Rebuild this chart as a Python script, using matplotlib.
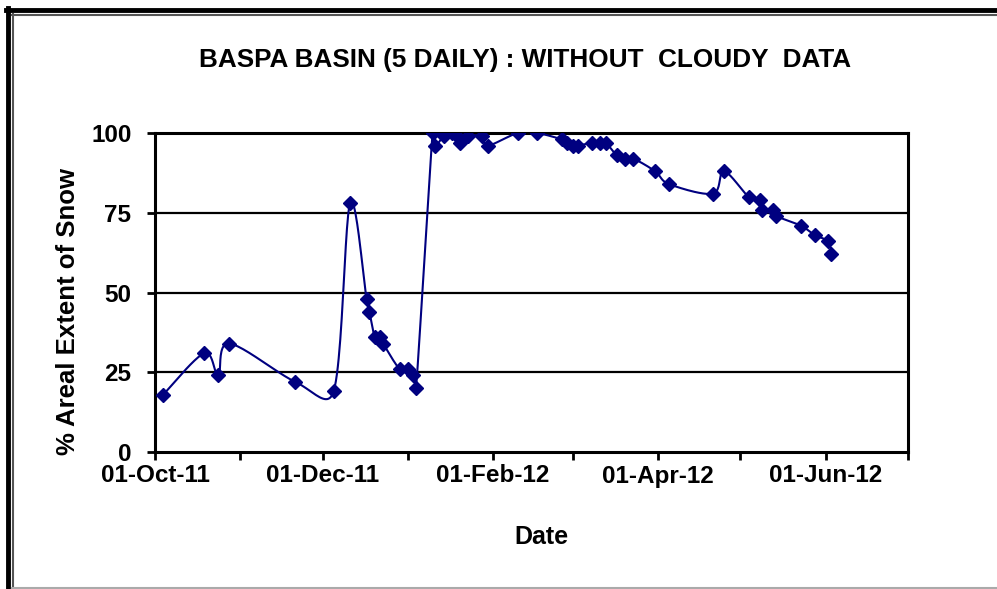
import numpy as np
import pandas as pd
import matplotlib.pyplot as plt
import matplotlib.dates as mdates
from matplotlib.lines import Line2D

# 5-daily snow cover, cloud-free scenes only
dates = ['2011-10-04', '2011-10-19', '2011-10-24', '2011-10-28', '2011-11-21',
         '2011-12-05', '2011-12-11', '2011-12-17', '2011-12-18', '2011-12-20',
         '2011-12-22', '2011-12-23', '2011-12-29', '2012-01-01', '2012-01-03',
         '2012-01-04', '2012-01-10', '2012-01-11', '2012-01-14', '2012-01-17',
         '2012-01-19', '2012-01-20', '2012-01-23', '2012-01-28', '2012-01-30',
         '2012-02-10', '2012-02-17', '2012-02-26', '2012-02-28', '2012-03-01',
         '2012-03-03', '2012-03-08', '2012-03-11', '2012-03-13', '2012-03-17',
         '2012-03-20', '2012-03-23', '2012-03-31', '2012-04-05', '2012-04-21',
         '2012-04-25', '2012-05-04', '2012-05-08', '2012-05-09', '2012-05-13',
         '2012-05-14', '2012-05-23', '2012-05-28', '2012-06-02', '2012-06-03']
snow = [18, 31, 24, 34, 22,
        19, 78, 48, 44, 36,
        36, 34, 26, 26, 24,
        20, 100, 96, 99, 100,
        99, 97, 99, 99, 96,
        100, 100, 98, 97, 96,
        96, 97, 97, 97, 93,
        92, 92, 88, 84, 81,
        88, 80, 79, 76, 76,
        74, 71, 68, 66, 62]
yticks = [0, 25, 50, 75, 100]

x = mdates.date2num(pd.to_datetime(dates))
y = np.array(snow, dtype=float)

font = ['Liberation Sans', 'DejaVu Sans']
plt.rcParams['font.family'] = font

fig = plt.figure(figsize=(9.97, 5.89), dpi=100)
ax = fig.add_axes([155 / 997, 1 - 452 / 589, (908 - 155) / 997, (452 - 133) / 589])
ax.set_xlim(mdates.date2num(pd.Timestamp('2011-10-01')), mdates.date2num(pd.Timestamp('2012-07-01')))
ax.set_ylim(0, 100)


def smooth(ax, x, y, n=24):
    # smoothed line like Excel: cubic bezier, catmull-rom tangents,
    # control arms clamped to half the segment so short steps don't loop
    pts = ax.transData.transform(np.column_stack([x, y]))
    p = np.vstack([pts[:1], pts, pts[-1:]])
    t = np.linspace(0, 1, n)[:, None]
    out = []
    for i in range(1, len(p) - 2):
        p0, p3 = p[i], p[i + 1]
        seg = np.hypot(*(p3 - p0))
        a = (p[i + 1] - p[i - 1]) / 6
        b = (p[i + 2] - p[i]) / 6
        for v in (a, b):
            L = np.hypot(*v)
            if L > seg / 2:
                v *= seg / 2 / L
        p1, p2 = p0 + a, p3 - b
        out.append((1 - t) ** 3 * p0 + 3 * (1 - t) ** 2 * t * p1
                   + 3 * (1 - t) * t ** 2 * p2 + t ** 3 * p3)
    out = ax.transData.inverted().transform(np.vstack(out))
    return out[:, 0], out[:, 1]


sx, sy = smooth(ax, x, y)
ax.plot(sx, sy, color='#000080', lw=1.5, zorder=3)
ax.plot(x, y, ls='none', marker='D', ms=7.5, color='#000080', zorder=4)

ax.set_yticks(yticks)
ax.xaxis.set_major_locator(mdates.MonthLocator(bymonth=[10, 12, 2, 4, 6]))
ax.xaxis.set_minor_locator(mdates.MonthLocator())
ax.xaxis.set_major_formatter(mdates.DateFormatter('%d-%b-%y'))
for yv in yticks[1:-1]:
    ax.axhline(yv, color='black', lw=1.6, zorder=1)

for s in ax.spines.values():
    s.set_linewidth(2.2)
ax.tick_params(axis='both', which='both', direction='out', width=2, length=6,
               labelsize=17.5, pad=3)
ax.tick_params(axis='y', pad=11)
for lab in ax.get_xticklabels() + ax.get_yticklabels():
    lab.set_fontweight('bold')

ax.set_xlabel('Date', fontsize=18, fontweight='bold')
ax.xaxis.set_label_coords(0.5126, -0.229)
ax.set_ylabel('% Areal Extent of Snow', fontsize=18.5, fontweight='bold')
ax.yaxis.set_label_coords(-0.0996, 0.44)
fig.text(525 / 997, 1 - 60 / 589, 'BASPA BASIN (5 DAILY) : WITHOUT  CLOUDY  DATA',
         ha='center', va='center', fontsize=18.8, fontweight='bold')

# double frame around the chart
fig.add_artist(Line2D([8, 8], [-5, 581], color='black', lw=3.5, transform=None))
fig.add_artist(Line2D([6, 1005], [579, 579], color='black', lw=3.5, transform=None))
fig.add_artist(Line2D([13, 13], [-5, 575], color='#555555', lw=1.5, transform=None))
fig.add_artist(Line2D([12, 1005], [574, 574], color='#555555', lw=1.5, transform=None))
fig.add_artist(Line2D([12, 1005], [1, 1], color='#aaaaaa', lw=1.5, transform=None))

fig.savefig('out.png', dpi=100)
